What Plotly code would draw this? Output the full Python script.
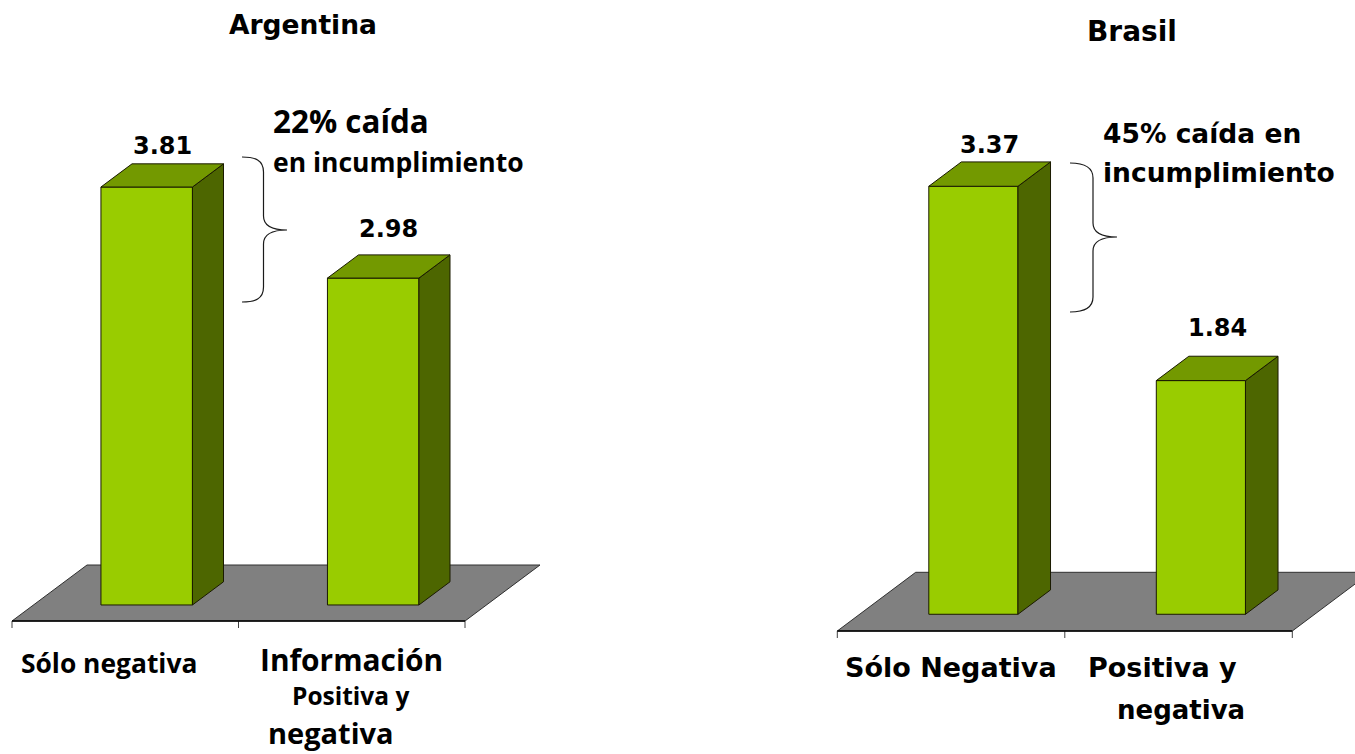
import plotly.graph_objects as go

W, H = 1355, 754

# ---- data -------------------------------------------------------------
TITLES = ["Argentina", "Brasil"]
AR_CATEGORIES = [["Sólo negativa"], ["Información", "Positiva y", "negativa"]]
AR_VALUES = [3.81, 2.98]
BR_CATEGORIES = [["Sólo Negativa"], ["Positiva y", "negativa"]]
BR_VALUES = [3.37, 1.84]

# ---- styles -----------------------------------------------------------
GREEN_FRONT = "#99CC00"
GREEN_TOP = "#739900"
GREEN_SIDE = "#4D6600"
FLOOR = "#808080"
SANS = "DejaVu Sans"
HUMANIST = "Open Sans"


def px_x(p):
    return p / W


def px_y(p):
    return 1 - p / H


# projection / placement of each 3-D panel (pixels)
panels = [
    dict(values=AR_VALUES, cats=AR_CATEGORIES, title=TITLES[0],
         x_left_px=12.0, cat_px=226.5, floor_px=621.0, ppu=109.7,
         depth_px=(75.0, -56.0), d0=0.286, d1=0.70, bar_w=0.404,
         xa="x", ya="y", domain=[0.0, 0.5]),
    dict(values=BR_VALUES, cats=BR_CATEGORIES, title=TITLES[1],
         x_left_px=837.3, cat_px=227.5, floor_px=631.0, ppu=127.0,
         depth_px=(78.4, -58.7), d0=0.285, d1=0.70, bar_w=0.392,
         xa="x2", ya="y2", domain=[0.5, 1.0]),
]

fig = go.Figure()
shapes = []
annotations = []

for k, p in enumerate(panels):
    vals = p["values"]
    n = len(vals)
    dx = p["depth_px"][0] / p["cat_px"]
    dy = -p["depth_px"][1] / p["ppu"]
    d0, d1, w = p["d0"], p["d1"], p["bar_w"]
    ddx, ddy = (d1 - d0) * dx, (d1 - d0) * dy
    xa, ya = p["xa"], p["ya"]

    # floor plane
    fx = [-0.5, n - 0.5, n - 0.5 + dx, -0.5 + dx]
    fy = [0, 0, dy, dy]
    path = "M " + " L ".join(f"{a},{b}" for a, b in zip(fx, fy)) + " Z"
    shapes.append(dict(type="path", path=path, xref=xa, yref=ya,
                       fillcolor=FLOOR, line=dict(color="#303030", width=1),
                       layer="below"))

    # front faces
    xs = [i + d0 * dx for i in range(n)]
    fig.add_trace(go.Bar(
        x=xs, y=vals, base=[d0 * dy] * n, width=[w] * n,
        marker=dict(color=GREEN_FRONT, line=dict(color="#1a1a00", width=1)),
        xaxis=xa, yaxis=ya, showlegend=False, hoverinfo="skip"))

    # top and side faces
    tx, ty, sx, sy = [], [], [], []
    for i, v in enumerate(vals):
        xl = i - w / 2 + d0 * dx
        xr = i + w / 2 + d0 * dx
        yb = d0 * dy
        yt = d0 * dy + v
        tx += [xl, xr, xr + ddx, xl + ddx, xl, None]
        ty += [yt, yt, yt + ddy, yt + ddy, yt, None]
        sx += [xr, xr + ddx, xr + ddx, xr, xr, None]
        sy += [yb, yb + ddy, yt + ddy, yt, yb, None]
    for fxs, fys, col in ((sx, sy, GREEN_SIDE), (tx, ty, GREEN_TOP)):
        fig.add_trace(go.Scatter(
            x=fxs, y=fys, mode="lines", fill="toself", fillcolor=col,
            line=dict(color="#1a1a00", width=1), xaxis=xa, yaxis=ya,
            showlegend=False, hoverinfo="skip"))

    # category axis with outward ticks at category boundaries
    tick = 7 / p["ppu"]
    bx, by = [], []
    for b in range(n + 1):
        bx += [b - 0.5, b - 0.5, None]
        by += [0, -tick, None]
    fig.add_trace(go.Scatter(x=bx, y=by, mode="lines",
                             line=dict(color="#404040", width=1),
                             xaxis=xa, yaxis=ya, showlegend=False,
                             hoverinfo="skip"))
    fig.add_trace(go.Scatter(x=[-0.5, n - 0.5], y=[0, 0], mode="lines",
                             line=dict(color="#000000", width=1.6),
                             xaxis=xa, yaxis=ya, showlegend=False,
                             hoverinfo="skip"))

    # value labels above each bar's top face
    label_shift = [[18, 26], [17, 28]][k]
    for i, v in enumerate(vals):
        annotations.append(dict(
            x=i + (d0 + d1) / 2 * dx, y=d1 * dy + v, xref=xa, yref=ya,
            text=f"{v:.2f}", showarrow=False, yanchor="middle",
            xanchor="center", yshift=label_shift[i],
            font=dict(family=SANS, size=24, color="black", weight="bold")))

    # axis ranges so one unit maps onto the intended pixel scale
    x0 = p["domain"][0] * W
    x1 = p["domain"][1] * W
    xr_ = [-0.5 + (x0 - p["x_left_px"]) / p["cat_px"],
           -0.5 + (x1 - p["x_left_px"]) / p["cat_px"]]
    yr_ = [-(H - p["floor_px"]) / p["ppu"], p["floor_px"] / p["ppu"]]
    axis_common = dict(visible=False, fixedrange=True)
    fig.update_layout({
        ("xaxis" if k == 0 else "xaxis2"): dict(domain=p["domain"], range=xr_,
                                                 anchor=ya, **axis_common),
        ("yaxis" if k == 0 else "yaxis2"): dict(domain=[0, 1], range=yr_,
                                                 anchor=xa, **axis_common),
    })


def text_ann(text, x, y, size, family, xanchor="center"):
    annotations.append(dict(
        x=px_x(x), y=px_y(y), xref="paper", yref="paper", text=text,
        showarrow=False, xanchor=xanchor, yanchor="middle",
        font=dict(family=family, size=size, color="black", weight="bold")))


# titles
text_ann(TITLES[0], 302.5, 24, 26.5, SANS)
text_ann(TITLES[1], 1132, 31.5, 28, SANS)

# percentage drop notes
ar_drop = round((AR_VALUES[0] - AR_VALUES[1]) / AR_VALUES[0] * 100)
br_drop = round((BR_VALUES[0] - BR_VALUES[1]) / BR_VALUES[0] * 100)
text_ann(f"{ar_drop}% caída", 271, 121, 31.4, HUMANIST, "left")
text_ann("en incumplimiento", 271, 162.5, 26.5, HUMANIST, "left")
text_ann(f"{br_drop}% caída en", 1100.5, 133, 26.5, SANS, "left")
text_ann("incumplimiento", 1100.5, 172.5, 26.5, SANS, "left")

# category labels
ar_label_pos = [[(109, 663, 26.4)],
                [(351, 659, 29.9), (350, 695, 24.5), (331, 732, 29)]]
for lines, pos in zip(AR_CATEGORIES, ar_label_pos):
    for line, (x, y, s) in zip(lines, pos):
        text_ann(line, x, y, s, HUMANIST)
br_label_pos = [[(950.5, 667, 27)], [(1162, 667, 27), (1181, 709.7, 26)]]
for lines, pos in zip(BR_CATEGORIES, br_label_pos):
    for line, (x, y, s) in zip(lines, pos):
        text_ann(line, x, y, s, SANS)


# curly braces spanning the drop
def brace(xe, xv, xt, ytop, ytip, ybot):
    pts = [
        f"M {px_x(xe)},{px_y(ytop)}",
        f"C {px_x(xe + 13)},{px_y(ytop)} {px_x(xv)},{px_y(ytop + 3)} {px_x(xv)},{px_y(ytop + 15)}",
        f"L {px_x(xv)},{px_y(ytip - 14)}",
        f"C {px_x(xv)},{px_y(ytip - 4)} {px_x(xv + 9)},{px_y(ytip)} {px_x(xt)},{px_y(ytip)}",
        f"C {px_x(xv + 9)},{px_y(ytip)} {px_x(xv)},{px_y(ytip + 4)} {px_x(xv)},{px_y(ytip + 14)}",
        f"L {px_x(xv)},{px_y(ybot - 15)}",
        f"C {px_x(xv)},{px_y(ybot - 3)} {px_x(xe + 13)},{px_y(ybot)} {px_x(xe)},{px_y(ybot)}",
    ]
    shapes.append(dict(type="path", path=" ".join(pts), xref="paper",
                       yref="paper", line=dict(color="#1a1a1a", width=1.2)))


brace(242, 263.5, 287, 157, 230, 302)
brace(1070, 1093, 1117, 163, 237, 312)

fig.update_layout(
    width=W, height=H, margin=dict(l=0, r=0, t=0, b=0),
    paper_bgcolor="white", plot_bgcolor="rgba(0,0,0,0)",
    barmode="overlay", hovermode=False,
    shapes=shapes, annotations=annotations,
)

fig.write_html("out.html")
